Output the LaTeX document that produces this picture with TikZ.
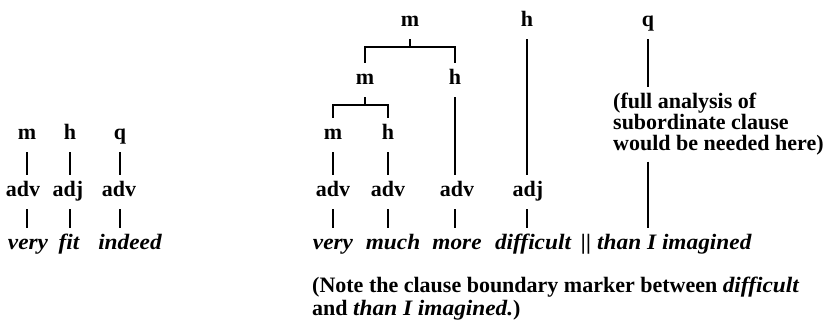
\documentclass[tikz,border=0pt]{standalone}
\usepackage{fontspec}
\setmainfont{Liberation Serif}[ItalicFeatures={FakeStretch=1.06}, BoldItalicFeatures={FakeStretch=1.06}]
\begin{document}
\begin{tikzpicture}[x=1pt,y=-1pt,
  lab/.style={inner xsep=0pt, inner ysep=7pt, text height=15pt, text depth=5pt,
              font=\fontsize{22}{22}\selectfont\bfseries},
  wd/.style={lab, font=\fontsize{22}{22}\selectfont\bfseries\itshape},
  para/.style={inner xsep=0pt, inner ysep=6pt, align=left, anchor=north west},
  ln/.style={line width=2pt}]
\useasboundingbox (0,0) rectangle (830,328);

% ---------- left tree: very fit indeed ----------
\node[lab] (Lm) at (27,135) {m};
\node[lab] (Lh) at (70,135) {h};
\node[lab] (Lq) at (120,135) {q};
\node[lab] (La1) at (23,192) {adv};
\node[lab] (La2) at (68,192) {adj};
\node[lab] (La3) at (119,192) {adv};
\node[wd] (Lw1) at (28,245) {very};
\node[wd] (Lw2) at (69,245) {fit};
\node[wd] (Lw3) at (130,245) {indeed};
\foreach \u/\a/\w in {Lm/La1/Lw1, Lh/La2/Lw2, Lq/La3/Lw3}{
  \draw[ln] (\u.south) -- (\u.south |- \a.north);
  \draw[ln] (\u.south |- \a.south) -- (\u.south |- \w.north);
}

% ---------- right tree ----------
\node[lab] (T)  at (410,22) {m};
\node[lab] (H0) at (527,22) {h};
\node[lab] (Q0) at (648,22) {q};
\node[lab] (M1) at (365,80) {m};
\node[lab] (H1) at (455,80) {h};
\node[lab] (M2) at (333,135) {m};
\node[lab] (H2) at (388,135) {h};
\node[lab] (A1) at (333,192) {adv};
\node[lab] (A2) at (388,192) {adv};
\node[lab] (A3) at (457,192) {adv};
\node[lab] (A4) at (528,192) {adj};
\node[wd] (W1) at (333,245) {very};
\node[wd] (W2) at (393,245) {much};
\node[wd] (W3) at (457,245) {more};
\node[wd] (W4) at (533,245) {difficult};
\node[wd] (W5) at (586,245) {||};
\node[wd, anchor=west] (W6) at (597,245) {than I imagined};

\node[para, font=\fontsize{22}{21}\selectfont\bfseries] (N) at (613,87)
  {(full analysis of\\subordinate clause\\would be needed here)};

% brackets
\draw[ln] (T.south) -- ++(0,8) coordinate (b0);
\draw[ln] (M1.north) |- (b0) -| (H1.north);
\draw[ln] (M1.south) -- ++(0,8) coordinate (b1);
\draw[ln] (M2.north) |- (b1) -| (H2.north);

% verticals
\draw[ln] (H1.south) -- (H1.south |- A3.north);
\draw[ln] (H0.south) -- (H0.south |- A4.north);
\draw[ln] (M2.south) -- (M2.south |- A1.north);
\draw[ln] (H2.south) -- (H2.south |- A2.north);
\draw[ln] (A1.south) -- (A1.south |- W1.north);
\draw[ln] (A2.south) -- (A2.south |- W2.north);
\draw[ln] (H1.south |- A3.south) -- (H1.south |- W3.north);
\draw[ln] (H0.south |- A4.south) -- (H0.south |- W4.north);
\draw[ln] (Q0.south) -- (Q0.south |- N.north);
\draw[ln] (Q0.south |- N.south) -- (Q0.south |- W6.north);

% bottom note
\node[para, inner ysep=0pt, font=\fontsize{22}{23}\selectfont\bfseries] (Note) at (312,277)
  {(Note the clause boundary marker between \textit{difficult}\\and \textit{than I imagined.})};
\end{tikzpicture}
\end{document}
